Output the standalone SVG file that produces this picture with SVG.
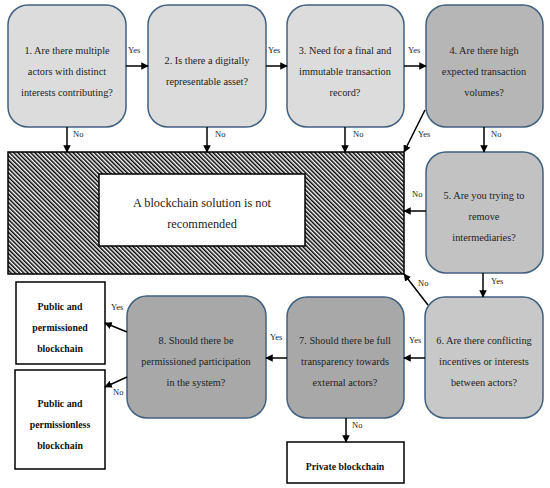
<svg xmlns="http://www.w3.org/2000/svg" width="550" height="488" viewBox="0 0 550 488">
<style>
.q{stroke:#41607f;stroke-width:1.5}
.t{font-family:"Liberation Serif","Times New Roman",serif;font-size:10.3px;fill:#222;text-anchor:middle}
.b{font-family:"Liberation Serif","Times New Roman",serif;font-size:9.8px;font-weight:bold;fill:#111;text-anchor:middle}
.l{font-family:"Liberation Serif","Times New Roman",serif;font-size:8.5px;fill:#222}
.c line{stroke:#000;stroke-width:1.5;marker-end:url(#ah)}
.o{fill:#fff;stroke:#000;stroke-width:1.5}
</style>
<defs>
<marker id="ah" viewBox="0 0 10 10" refX="9" refY="5" markerWidth="5" markerHeight="5" orient="auto" markerUnits="strokeWidth">
<path d="M0,0L10,5L0,10z" fill="#000"/>
</marker>
<pattern id="hatch" width="3" height="3" patternUnits="userSpaceOnUse" patternTransform="rotate(-45)">
<rect width="3" height="3" fill="#fff"/>
<rect width="1.5" height="3" fill="#000"/>
</pattern>
</defs>
<rect width="550" height="488" fill="#fff"/>

<g id="n1"><rect class="q" x="8" y="5" width="118" height="122" rx="20" fill="#dcdcdc"/>
<text class="t" x="67" y="54">1. Are there multiple</text><text class="t" x="67" y="75">actors with distinct</text><text class="t" x="67" y="96">interests contributing?</text></g>
<g id="n2"><rect class="q" x="148" y="5" width="118" height="122" rx="20" fill="#dcdcdc"/>
<text class="t" x="207" y="64">2. Is there a digitally</text><text class="t" x="207" y="85">representable asset?</text></g>
<g id="n3"><rect class="q" x="287" y="5" width="117" height="122" rx="20" fill="#dcdcdc"/>
<text class="t" x="345" y="54">3. Need for a final and</text><text class="t" x="345" y="75">immutable transaction</text><text class="t" x="345" y="96">record?</text></g>
<g id="n4"><rect class="q" x="426" y="5" width="117" height="122" rx="20" fill="#b6b6b6"/>
<text class="t" x="484" y="54">4. Are there high</text><text class="t" x="484" y="75">expected transaction</text><text class="t" x="484" y="96">volumes?</text></g>

<g id="notrec"><rect x="8" y="152" width="396" height="122" fill="url(#hatch)" stroke="#000" stroke-width="1.5"/>
<rect class="o" x="99" y="174" width="206" height="72"/>
<text class="t" style="font-size:12.3px" x="202" y="207">A blockchain solution is not</text><text class="t" style="font-size:12.3px" x="202" y="228">recommended</text></g>

<g id="n5"><rect class="q" x="426" y="152" width="117" height="121" rx="20" fill="#c2c2c2"/>
<text class="t" x="484" y="199">5. Are you trying to</text><text class="t" x="484" y="220">remove</text><text class="t" x="484" y="241">intermediaries?</text></g>
<g id="n6"><rect class="q" x="425" y="297" width="118" height="121" rx="20" fill="#c8c8c8"/>
<text class="t" x="484" y="344">6. Are there conflicting</text><text class="t" x="484" y="365">incentives or interests</text><text class="t" x="484" y="386">between actors?</text></g>
<g id="n7"><rect class="q" x="287" y="297" width="117" height="121" rx="20" fill="#a8a8a8"/>
<text class="t" x="345" y="344">7. Should there be full</text><text class="t" x="345" y="365">transparency towards</text><text class="t" x="345" y="386">external actors?</text></g>
<g id="n8"><rect class="q" x="127" y="296" width="139" height="122" rx="20" fill="#a8a8a8"/>
<text class="t" x="196" y="344">8. Should there be</text><text class="t" x="196" y="365">permissioned participation</text><text class="t" x="196" y="386">in the system?</text></g>

<g id="pubperm"><rect class="o" x="16" y="282" width="89" height="82"/>
<text class="b" x="60" y="310">Public and</text><text class="b" x="60" y="331">permissioned</text><text class="b" x="60" y="352">blockchain</text></g>
<g id="publess"><rect class="o" x="15" y="370" width="90" height="99"/>
<text class="b" x="60" y="407">Public and</text><text class="b" x="60" y="428">permissionless</text><text class="b" x="60" y="449">blockchain</text></g>
<g id="private"><rect class="o" x="287" y="442" width="117" height="41"/>
<text class="b" x="345" y="470">Private blockchain</text></g>

<g class="c" id="connectors">
<line x1="126" y1="66" x2="148" y2="66"/>
<line x1="266" y1="66" x2="287" y2="66"/>
<line x1="404" y1="66" x2="426" y2="66"/>
<line x1="67" y1="127" x2="67" y2="152"/>
<line x1="207" y1="127" x2="207" y2="152"/>
<line x1="345" y1="127" x2="345" y2="152"/>
<line x1="425" y1="110" x2="404" y2="152"/>
<line x1="484" y1="127" x2="484" y2="152"/>
<line x1="426" y1="211" x2="404" y2="211"/>
<line x1="483" y1="273" x2="483" y2="297"/>
<line x1="428" y1="305" x2="404" y2="274"/>
<line x1="425" y1="358" x2="404" y2="358"/>
<line x1="287" y1="358" x2="266" y2="358"/>
<line x1="346" y1="418" x2="346" y2="442"/>
<line x1="127" y1="332" x2="105" y2="323"/>
<line x1="127" y1="377" x2="105" y2="387"/>
</g>
<g id="labels">
<text class="l" x="128" y="53">Yes</text>
<text class="l" x="268" y="53">Yes</text>
<text class="l" x="408" y="53">Yes</text>
<text class="l" x="73" y="137">No</text>
<text class="l" x="215" y="137">No</text>
<text class="l" x="353" y="137">No</text>
<text class="l" x="418" y="137">Yes</text>
<text class="l" x="491" y="137">No</text>
<text class="l" x="412" y="197">No</text>
<text class="l" x="491" y="284">Yes</text>
<text class="l" x="418" y="286">No</text>
<text class="l" x="409" y="343">Yes</text>
<text class="l" x="270" y="340">Yes</text>
<text class="l" x="352" y="428">No</text>
<text class="l" x="111" y="310">Yes</text>
<text class="l" x="113" y="395">No</text>
</g>
</svg>
